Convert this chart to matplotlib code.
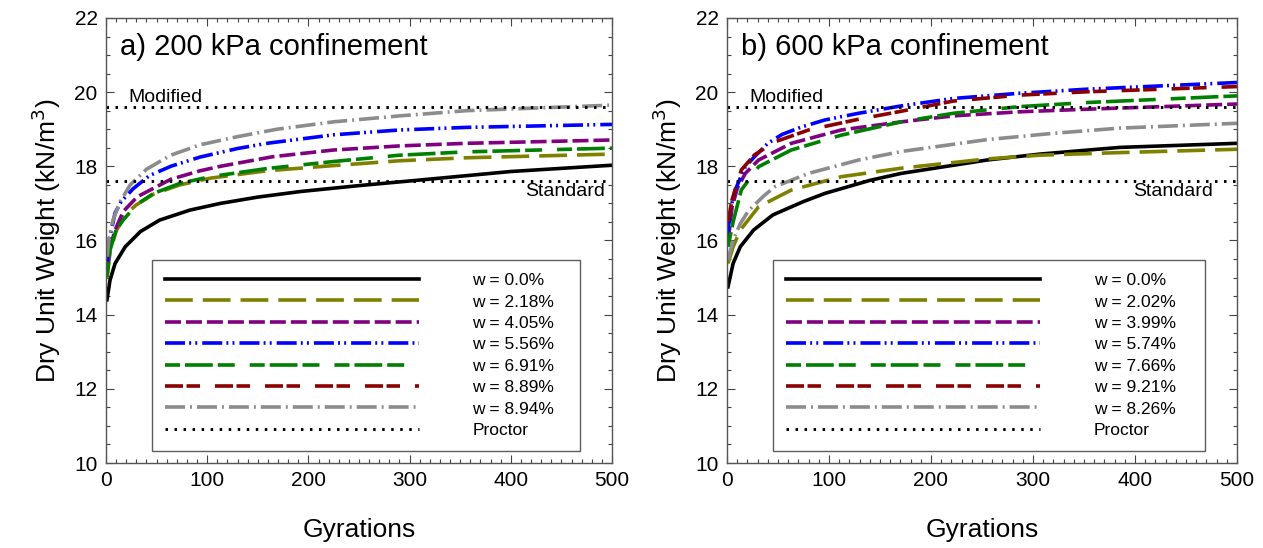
import matplotlib
matplotlib.use('Agg')
import matplotlib.pyplot as plt
from matplotlib.lines import Line2D
from matplotlib.ticker import MultipleLocator

plt.rcParams['font.family'] = ['Liberation Sans', 'DejaVu Sans']
plt.rcParams['lines.scale_dashes'] = False

# ---- data: gyrations vs dry unit weight (kN/m3) ----
# a) 200 kPa confinement
a_w00_x = [1, 4, 9, 19, 34, 53, 83, 113, 150, 192, 250, 310, 400, 500]
a_w00_y = [14.4, 14.93, 15.38, 15.83, 16.24, 16.55, 16.82, 17.0, 17.17, 17.32, 17.48, 17.63, 17.86, 18.03]
a_w218_x = [1, 4, 10, 19, 30, 47, 73, 103, 159, 225, 290, 356, 500]
a_w218_y = [14.98, 15.7, 16.25, 16.7, 16.96, 17.25, 17.5, 17.68, 17.88, 18.02, 18.15, 18.23, 18.33]
a_w405_x = [1, 4, 9, 17, 31, 64, 93, 113, 165, 225, 290, 356, 500]
a_w405_y = [15.2, 15.8, 16.28, 16.78, 17.18, 17.65, 17.88, 18.0, 18.26, 18.44, 18.55, 18.62, 18.71]
a_w556_x = [1, 3, 9, 15, 27, 43, 64, 93, 130, 159, 225, 290, 356, 500]
a_w556_y = [15.4, 16.0, 16.74, 17.05, 17.4, 17.75, 18.0, 18.25, 18.48, 18.62, 18.85, 18.98, 19.05, 19.13]
a_w691_x = [1, 4, 10, 17, 30, 47, 73, 103, 159, 225, 290, 356, 500]
a_w691_y = [15.02, 15.74, 16.28, 16.55, 16.96, 17.27, 17.54, 17.72, 17.94, 18.13, 18.3, 18.39, 18.49]
a_w894_x = [1, 3, 7, 14, 24, 40, 64, 93, 130, 169, 225, 290, 356, 500]
a_w894_y = [15.56, 16.05, 16.55, 17.05, 17.5, 17.92, 18.3, 18.58, 18.8, 19.0, 19.2, 19.36, 19.5, 19.65]

# b) 600 kPa confinement
b_w00_x = [1, 6, 13, 26, 45, 75, 96, 140, 171, 255, 307, 385, 500]
b_w00_y = [14.75, 15.38, 15.83, 16.28, 16.69, 17.05, 17.27, 17.62, 17.81, 18.17, 18.33, 18.51, 18.62]
b_w202_x = [1, 6, 13, 31, 63, 112, 171, 255, 307, 385, 500]
b_w202_y = [15.38, 15.83, 16.28, 16.91, 17.36, 17.72, 17.95, 18.2, 18.3, 18.37, 18.46]
b_w399_x = [1, 5, 10, 18, 31, 63, 112, 171, 222, 287, 353, 500]
b_w399_y = [15.95, 16.9, 17.4, 17.81, 18.17, 18.62, 18.98, 19.2, 19.36, 19.47, 19.54, 19.68]
b_w574_x = [1, 3, 8, 18, 27, 40, 54, 73, 96, 129, 171, 222, 287, 353, 500]
b_w574_y = [16.2, 16.8, 17.36, 17.99, 18.26, 18.62, 18.86, 19.06, 19.25, 19.43, 19.63, 19.83, 19.97, 20.08, 20.26]
b_w766_x = [1, 6, 14, 31, 63, 112, 171, 222, 287, 353, 500]
b_w766_y = [15.83, 16.5, 17.36, 17.99, 18.44, 18.84, 19.2, 19.43, 19.61, 19.72, 19.9]
b_w921_x = [1, 5, 14, 27, 47, 80, 129, 168, 222, 287, 353, 500]
b_w921_y = [16.5, 17.1, 17.9, 18.31, 18.66, 18.98, 19.27, 19.47, 19.76, 19.92, 20.01, 20.15]
b_w826_x = [1, 6, 13, 21, 36, 47, 80, 129, 171, 255, 320, 385, 500]
b_w826_y = [15.47, 16.01, 16.45, 16.8, 17.2, 17.45, 17.81, 18.17, 18.4, 18.72, 18.89, 19.03, 19.16]

proctor_standard = 17.6
proctor_modified = 19.6

labels_a = ['w = 0.0%', 'w = 2.18%', 'w = 4.05%', 'w = 5.56%', 'w = 6.91%', 'w = 8.89%', 'w = 8.94%', 'Proctor']
labels_b = ['w = 0.0%', 'w = 2.02%', 'w = 3.99%', 'w = 5.74%', 'w = 7.66%', 'w = 9.21%', 'w = 8.26%', 'Proctor']

# series order follows the legend: 0.0, ~2, ~4, ~5.6, ~7, ~9 (red), gray
series_a = [(a_w00_x, a_w00_y), (a_w218_x, a_w218_y), (a_w405_x, a_w405_y),
            (a_w556_x, a_w556_y), (a_w691_x, a_w691_y), None, (a_w894_x, a_w894_y)]
series_b = [(b_w00_x, b_w00_y), (b_w202_x, b_w202_y), (b_w399_x, b_w399_y),
            (b_w574_x, b_w574_y), (b_w766_x, b_w766_y), (b_w921_x, b_w921_y), (b_w826_x, b_w826_y)]

# ---- styles ----
LW = 2.6
styles = [
    dict(color='black', linestyle='-', lw=LW),
    dict(color='#808000', linestyle=(0, (20, 7.2)), lw=LW),
    dict(color='#800080', linestyle=(0, (11.5, 3.6)), lw=LW),
    dict(color='#0000ff', linestyle=(0, (14.4, 3, 1.4, 3, 1.4, 3.6)), lw=LW),
    dict(color='#008000', linestyle=(0, (10.8, 3.6, 20, 3.6, 12.2, 10.8)), lw=LW),
    dict(color='#8b0000', linestyle=(0, (13, 2.5, 9.7, 10.8)), lw=LW),
    dict(color='#8c8c8c', linestyle=(0, (14.4, 3.6, 1.4, 3.6)), lw=LW),
]
proctor_style = dict(color='black', linestyle=(0, (1.8, 4.7)), lw=2.1)


def draw_panel(ax, series, labels, title, mod_x, std_x):
    for s, st in zip(series, styles):
        if s is None:
            continue
        ax.plot(s[0], s[1], dash_capstyle='butt', solid_joinstyle='round', **st)
    ax.axhline(proctor_modified, dash_capstyle='butt', **proctor_style)
    ax.axhline(proctor_standard, dash_capstyle='butt', **proctor_style)
    ax.text(mod_x, proctor_modified + 0.03, 'Modified', fontsize=14, va='bottom', ha='left')
    ax.text(std_x, proctor_standard - 0.05, 'Standard', fontsize=14, va='top', ha='right')
    ax.text(0.028, 0.935, title, transform=ax.transAxes, fontsize=21, va='center', ha='left')

    ax.set_xlim(0, 500)
    ax.set_ylim(10, 22)
    ax.xaxis.set_major_locator(MultipleLocator(100))
    ax.xaxis.set_minor_locator(MultipleLocator(10))
    ax.yaxis.set_major_locator(MultipleLocator(2))
    ax.yaxis.set_minor_locator(MultipleLocator(0.5))
    ax.tick_params(which='both', direction='in', top=True, right=True, color='#444444')
    ax.tick_params(which='major', length=6, width=0.8, labelsize=15, pad=6)
    ax.tick_params(which='minor', length=3, width=0.8)
    for sp in ax.spines.values():
        sp.set_color('#555555')
        sp.set_linewidth(1.0)
    ax.set_xlabel('Gyrations', fontsize=19, labelpad=20)
    ax.set_ylabel('Dry Unit Weight (kN/m$^3$)', fontsize=19, labelpad=8)

    handles = [Line2D([], [], dash_capstyle='butt', **st) for st in styles]
    handles.append(Line2D([], [], dash_capstyle='butt', **proctor_style))
    leg = ax.legend(handles, labels, loc='lower left', bbox_to_anchor=(0.091, 0.027, 0.846, 0.44),
                    mode='expand', fontsize=12.5, handlelength=14.6, handletextpad=3.1,
                    labelspacing=0.36, borderpad=0.75, frameon=True, fancybox=False,
                    borderaxespad=0)
    leg.get_frame().set_edgecolor('#333333')
    leg.get_frame().set_linewidth(1.0)


fig = plt.figure(figsize=(12.63, 5.48), dpi=100)
ax1 = fig.add_axes([0.0839, 0.1551, 0.4007, 0.8121])
ax2 = fig.add_axes([0.5756, 0.1551, 0.4038, 0.8121])

draw_panel(ax1, series_a, labels_a, 'a) 200 kPa confinement', 22, 493)
draw_panel(ax2, series_b, labels_b, 'b) 600 kPa confinement', 22, 476)

fig.savefig('out.png', dpi=100)
